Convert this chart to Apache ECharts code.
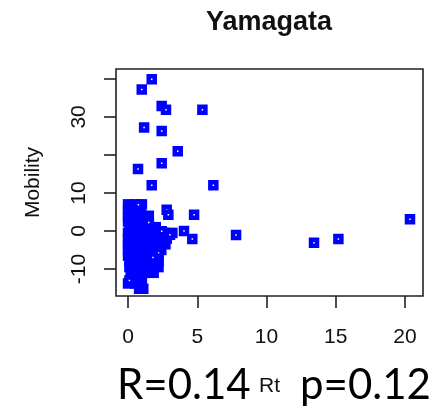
<!DOCTYPE html>
<html>
<head>
<meta charset="utf-8">
<script src="https://cdn.jsdelivr.net/npm/echarts@6/dist/echarts.min.js"></script>
<style>
  html, body { margin: 0; padding: 0; background: #fff; }
  #main { width: 440px; height: 414px; }
</style>
</head>
<body>
<div id="main"></div>
<script>
// Rt (x) and Mobility (y).
// Points in the dense clump near Rt=0 overlap so much that only blue shows.
var clusterRt = [
  0.0, 0.5, 1.0,
  0.0, 0.4, 0.9,
  0.0, 0.5, 1.0, 1.5,
  0.0, 0.4, 0.9, 1.4,
  0.1, 0.6, 1.2, 1.6, 2.0,
  0.0, 0.5, 1.0, 1.5, 2.0, 2.6, 3.2,
  0.0, 0.5, 1.0, 1.6, 2.2, 2.8,
  0.0, 0.4, 0.9, 1.5, 2.1, 2.7,
  0.0, 0.5, 1.0, 1.5, 2.0, 2.4,
  0.0, 0.5, 1.0, 1.5, 2.2,
  0.1, 0.6, 1.1, 1.6, 2.2,
  0.1, 0.6, 1.1, 1.6, 2.2,
  0.2, 0.7, 1.2, 1.85,
  0.2, 0.7, 1.0,
  0.0, 0.5, 0.9,
  0.8, 1.1
];
var clusterMobility = [
  7.0, 7.0, 7.0,
  5.5, 5.5, 5.5,
  4.0, 4.0, 4.0, 4.0,
  2.5, 2.5, 2.5, 2.5,
  1.0, 1.0, 1.0, 1.0, 1.0,
  -0.5, -0.5, -0.5, -0.5, -0.5, -0.5, -0.5,
  -2.0, -2.0, -2.0, -2.0, -2.0, -2.0,
  -3.5, -3.5, -3.5, -3.5, -3.5, -3.5,
  -5.0, -5.0, -5.0, -5.0, -5.0, -5.0,
  -6.5, -6.5, -6.5, -6.5, -6.5,
  -8.0, -8.0, -8.0, -8.0, -8.0,
  -9.5, -9.5, -9.5, -9.5, -9.5,
  -11.0, -11.0, -11.0, -11.0,
  -12.5, -12.5, -12.5,
  -13.8, -13.8, -13.8,
  -15.2, -15.2
];
// points whose open square is still visible
var spreadRt = [
  1.71, 0.99, 2.43, 2.74, 5.37, 1.16, 2.43, 3.59, 2.43, 0.72, 1.71, 6.16,
  2.79, 2.91, 4.77, 4.04, 4.64, 7.8, 13.43, 15.19, 20.36, 2.43, 3.03,
  0.75, 1.5, 2.2, 1.8, 0.1
];
var spreadMobility = [
  39.9, 37.2, 32.9, 31.9, 31.9, 27.2, 26.3, 21.0, 17.8, 16.3, 12.0, 12.0,
  5.6, 4.3, 4.3, 0.0, -2.1, -1.05, -3.1, -2.1, 3.1, -0.1, -1.0,
  6.9, 2.2, -5.7, -7.0, -13.0
];
var xTicks = [0, 5, 10, 15, 20];
var yTicks = [-10, 0, 10, 20, 30, 40];
var yLabels = [-10, 0, 10, 30];

function pairs(xs, ys) {
  return xs.map(function (v, i) { return [v, ys[i]]; });
}

var chart = echarts.init(document.getElementById('main'), null, { renderer: 'canvas' });

var rFont = '"Liberation Sans", Arial, sans-serif';
var blue = '#0000ff';

var option = {
  backgroundColor: '#ffffff',
  animation: false,
  title: {
    text: 'Yamagata',
    left: 201,
    top: 4,
    textStyle: { fontFamily: rFont, fontWeight: 'bold', fontSize: 27, color: '#111' }
  },
  grid: {
    left: 116, right: 17, top: 69, bottom: 118,
    show: true,
    borderColor: '#222',
    borderWidth: 1.6,
    backgroundColor: 'transparent'
  },
  xAxis: {
    type: 'value',
    min: -0.87,
    max: 21.3,
    name: 'Rt',
    nameLocation: 'middle',
    nameGap: 80,
    nameTextStyle: { fontFamily: rFont, fontSize: 21, color: '#111' },
    axisLine: { show: false, onZero: false },
    splitLine: { show: false },
    axisTick: {
      show: true, customValues: xTicks, length: 12,
      lineStyle: { color: '#222', width: 1.6 }
    },
    axisLabel: {
      customValues: xTicks, margin: 31,
      fontFamily: rFont, fontSize: 21, color: '#111'
    }
  },
  yAxis: {
    type: 'value',
    min: -17.1,
    max: 42.6,
    name: 'Mobility',
    nameLocation: 'middle',
    nameGap: 72,
    nameTextStyle: { fontFamily: rFont, fontSize: 21, color: '#111' },
    axisLine: { show: false, onZero: false },
    splitLine: { show: false },
    axisTick: {
      show: true, customValues: yTicks, length: 12,
      lineStyle: { color: '#222', width: 1.6 }
    },
    axisLabel: {
      customValues: yLabels, rotate: 90, margin: 26,
      fontFamily: rFont, fontSize: 21, color: '#111'
    }
  },
  series: [
    {
      type: 'scatter',
      data: pairs(clusterRt, clusterMobility),
      symbol: 'rect',
      symbolSize: 10.5,
      itemStyle: { color: blue, opacity: 1 }
    },
    {
      type: 'scatter',
      data: pairs(spreadRt, spreadMobility),
      symbol: 'rect',
      symbolSize: 6,
      itemStyle: { color: '#ffffff', borderColor: blue, borderWidth: 4.5, opacity: 1 }
    }
  ],
  graphic: [
    {
      type: 'text', left: 117, top: 364,
      style: { text: 'R=0.14', font: '42px Lato, "Open Sans", sans-serif', fill: '#000' }
    },
    {
      type: 'text', left: 300, top: 364,
      style: { text: 'p=0.12', font: '42px Lato, "Open Sans", sans-serif', fill: '#000' }
    }
  ]
};

chart.setOption(option);
</script>
</body>
</html>
